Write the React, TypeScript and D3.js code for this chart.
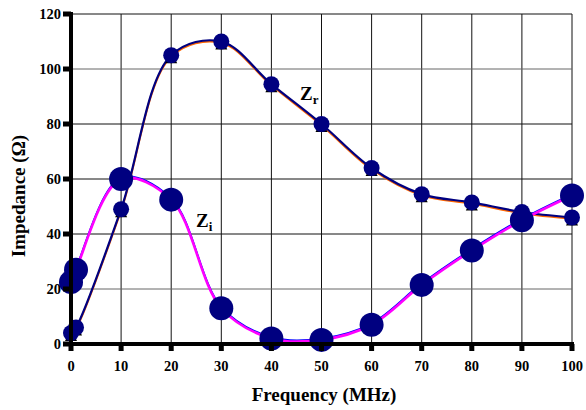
import React from "react";
import * as d3 from "d3";

const freq = [0, 1, 10, 20, 30, 40, 50, 60, 70, 80, 90, 100];
const zr = [4, 6, 49, 105, 110, 94.5, 80, 64, 54.5, 51.5, 48, 46];
const zi = [22.5, 27, 60, 52.5, 13, 2, 1.5, 7, 21.5, 34, 45, 54];
const xTicks = [0, 10, 20, 30, 40, 50, 60, 70, 80, 90, 100];
const yTicks = [0, 20, 40, 60, 80, 100, 120];

const W = 586, H = 410;
const x = d3.scaleLinear().domain([0, 100]).range([71, 572]);
const y = d3.scaleLinear().domain([0, 120]).range([344, 14]);

const font = "'Liberation Serif', 'Times New Roman', serif";

export default function App() {
  const line = d3
    .line<number>()
    .x((_, i) => x(freq[i]))
    .curve(d3.curveCatmullRom.alpha(0.5));
  const zrPath = line.y((d) => y(d))(zr) || "";
  const ziPath = line.y((d) => y(d))(zi) || "";

  return (
    <svg
      width={W}
      height={H}
      style={{ position: "absolute", left: 0, top: 0, background: "#fff" }}
    >
      {/* grid */}
      {xTicks.map((t) => (
        <line key={"gx" + t} x1={x(t)} x2={x(t)} y1={y(120)} y2={y(0)} stroke="#111" strokeWidth={1} />
      ))}
      {yTicks.map((t) => (
        <line key={"gy" + t} x1={x(0)} x2={x(100)} y1={y(t)} y2={y(t)} stroke={t === 100 || t === 20 ? "#666" : "#111"} strokeWidth={1} />
      ))}
      {/* curves */}
      <path d={zrPath} fill="none" stroke="#ff6600" strokeWidth={2} transform="translate(0,1.2)" />
      <path d={zrPath} fill="none" stroke="#000080" strokeWidth={2.2} />
      <path d={ziPath} fill="none" stroke="#0000ff" strokeWidth={2} transform="translate(0,-1.2)" />
      <path d={ziPath} fill="none" stroke="#ff00ff" strokeWidth={2.6} />
      {/* triangles under Zr */}
      {zr.map((v, i) => {
        const cx = x(freq[i]), cy = y(v) + 2;
        return (
          <path key={"t" + i} d={`M${cx},${cy - 6} L${cx + 6},${cy + 6} L${cx - 6},${cy + 6} Z`} fill="#000" />
        );
      })}
      {zr.map((v, i) => (
        <circle key={"cr" + i} cx={x(freq[i])} cy={y(v)} r={8} fill="#000080" />
      ))}
      {zi.map((v, i) => (
        <circle key={"ci" + i} cx={x(freq[i])} cy={y(v)} r={12} fill="#000080" />
      ))}
      {/* axes */}
      <line x1={x(0)} x2={x(0)} y1={y(120) - 2} y2={y(0) + 2} stroke="#000" strokeWidth={4} />
      <line x1={x(0) - 2} x2={x(100) + 2} y1={y(0)} y2={y(0)} stroke="#000" strokeWidth={4} />
      {yTicks.map((t) => (
        <rect key={"ty" + t} x={x(0) - 8} y={y(t) - 2.5} width={8} height={5} fill="#000" />
      ))}
      {xTicks.map((t) => (
        <rect key={"tx" + t} x={x(t) - 2.5} y={y(0)} width={5} height={7} fill="#000" />
      ))}
      {yTicks.map((t) => (
        <text key={"ly" + t} x={61} y={y(t)} dy="0.35em" textAnchor="end" fontFamily={font} fontWeight="bold" fontSize={14.5}>
          {t}
        </text>
      ))}
      {xTicks.map((t) => (
        <text key={"lx" + t} x={x(t)} y={366} dy="0.35em" textAnchor="middle" fontFamily={font} fontWeight="bold" fontSize={14.5}>
          {t}
        </text>
      ))}
      <text x={324} y={401} textAnchor="middle" fontFamily={font} fontWeight="bold" fontSize={19}>
        Frequency (MHz)
      </text>
      <text transform="translate(25,196) rotate(-90)" textAnchor="middle" fontFamily={font} fontWeight="bold" fontSize={19}>
        Impedance (Ω)
      </text>
      <text x={300} y={100} fontFamily={font} fontWeight="bold" fontSize={19}>
        Z<tspan fontSize={13} dy={4}>r</tspan>
      </text>
      <text x={196} y={227} fontFamily={font} fontWeight="bold" fontSize={19}>
        Z<tspan fontSize={13} dy={4}>i</tspan>
      </text>
    </svg>
  );
}
